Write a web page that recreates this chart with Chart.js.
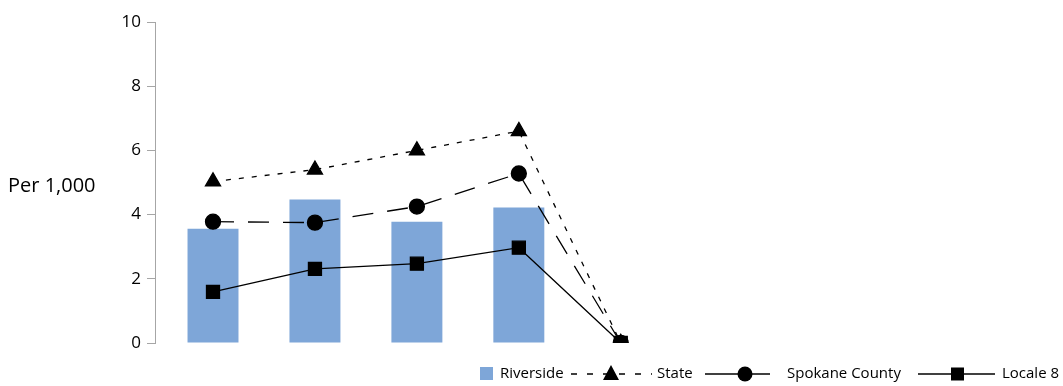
<!DOCTYPE html>
<html>
<head>
<meta charset="utf-8">
<script src="https://cdn.jsdelivr.net/npm/chart.js@4.4.0/dist/chart.umd.min.js"></script>
<style>
  html, body { margin:0; padding:0; background:#fff; }
  #wrap { width:1063px; height:386px; position:relative; }
</style>
</head>
<body>
<div id="wrap"><canvas id="chart-rates"></canvas></div>
<script>
const periods   = [1, 2, 3, 4, 5];
const riverside = [3.56, 4.47, 3.78, 4.22, 0];
const state     = [5.03, 5.40, 6.00, 6.60, 0];
const spokane   = [3.78, 3.75, 4.25, 5.28, 0];
const locale8   = [1.59, 2.31, 2.47, 2.97, 0];
const yTicks    = [0, 2, 4, 6, 8, 10];
const yTitle    = 'Per 1,000';

const FONT = '"Open Sans", "Noto Sans", sans-serif';
const BAR_BLUE = '#7ea6d8';

const pts = vals => vals.map((v, i) => ({ x: periods[i], y: v }));

// horizontal axis title on the left + hand-drawn legend (line + marker)
const extras = {
  id: 'extras',
  afterDraw(chart) {
    const c = chart.ctx;
    const yScale = chart.scales.y;
    c.save();
    c.fillStyle = '#000';
    c.font = '20px ' + FONT;
    c.textBaseline = 'middle';
    c.textAlign = 'left';
    c.fillText(yTitle, 8, (yScale.top + yScale.bottom) / 2 + 4);

    const ly = 374;
    c.font = '15px ' + FONT;
    c.fillStyle = BAR_BLUE;
    c.fillRect(480, ly - 7, 13, 13);
    c.fillStyle = '#000';
    c.fillText('Riverside', 500, ly);

    const seg = (x1, x2, dash) => {
      c.beginPath();
      c.setLineDash(dash);
      c.lineWidth = 1.3;
      c.strokeStyle = '#000';
      c.moveTo(x1, ly); c.lineTo(x2, ly);
      c.stroke();
      c.setLineDash([]);
    };
    seg(571, 652, [6, 10]);
    c.beginPath();
    c.moveTo(611, ly - 9); c.lineTo(619, ly + 6); c.lineTo(603, ly + 6); c.closePath();
    c.fill();
    c.fillText('State', 657, ly);

    seg(705, 770, []);
    c.beginPath(); c.arc(745, ly, 7.5, 0, Math.PI * 2); c.fill();
    c.fillText('Spokane County', 787, ly);

    seg(918, 995, []);
    c.fillRect(951, ly - 6.5, 13, 13);
    c.fillText('Locale 8', 1002, ly);
    c.restore();
  }
};

new Chart(document.getElementById('chart-rates'), {
  type: 'bar',
  data: {
    datasets: [{
      label: 'Locale 8',
      type: 'line',
      data: pts(locale8),
      borderColor: '#000',
      backgroundColor: '#000',
      borderWidth: 1.3,
      pointStyle: 'rect',
      pointRadius: 9.2,
      pointHoverRadius: 9.2,
      tension: 0,
      order: 1
    }, {
      label: 'Spokane County',
      type: 'line',
      data: pts(spokane),
      borderColor: '#000',
      backgroundColor: '#000',
      borderWidth: 1.3,
      borderDash: [21, 14],
      pointStyle: 'circle',
      pointRadius: 7.5,
      tension: 0,
      order: 2
    }, {
      label: 'State',
      type: 'line',
      data: pts(state),
      borderColor: '#000',
      backgroundColor: '#000',
      borderWidth: 1.3,
      borderDash: [5, 8],
      pointStyle: 'triangle',
      pointRadius: 8.7,
      tension: 0,
      order: 3
    }, {
      label: 'Riverside',
      data: pts(riverside),
      backgroundColor: BAR_BLUE,
      categoryPercentage: 1,
      barPercentage: 0.5,
      order: 4
    }]
  },
  options: {
    responsive: true, maintainAspectRatio: false, animation: false,
    layout: { padding: { left: 0, right: 0, top: 22, bottom: 43 } },
    plugins: { legend: { display: false }, tooltip: { enabled: false } },
    scales: {
      x: {
        type: 'linear',
        display: false,
        offset: false,
        min: 0.431,
        max: 9.235,
        afterBuildTicks: s => { s.ticks = periods.map(v => ({ value: v })); }
      },
      y: {
        min: 0, max: 10,
        afterFit: s => { s.width = 155; },
        afterBuildTicks: s => { s.ticks = yTicks.map(v => ({ value: v })); },
        border: { display: true, color: '#a6a6a6', width: 1 },
        grid: { drawOnChartArea: false, drawTicks: true, tickLength: 8, color: '#a6a6a6' },
        ticks: { color: '#000', padding: 6, font: { family: FONT, size: 17 } }
      }
    }
  },
  plugins: [extras]
});
</script>
</body>
</html>
